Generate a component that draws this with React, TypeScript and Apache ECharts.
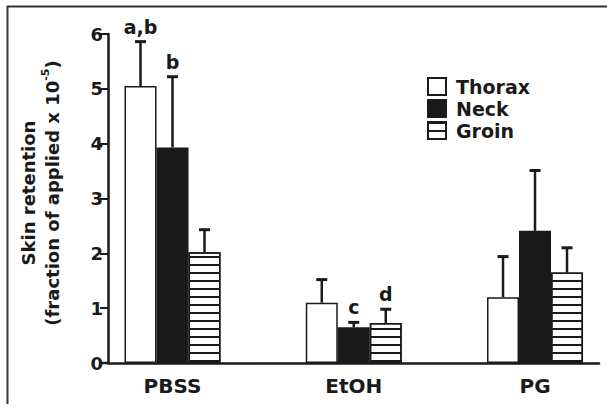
import React, { useEffect, useRef } from "react";
import * as echarts from "echarts";

const categories = ["PBSS", "EtOH", "PG"];
const seriesNames = ["Thorax", "Neck", "Groin"];
const thorax = [5.05, 1.1, 1.2];
const neck = [3.93, 0.65, 2.41];
const groin = [2.02, 0.73, 1.65];
const thoraxSD = [0.82, 0.43, 0.75];
const neckSD = [1.3, 0.1, 1.11];
const groinSD = [0.42, 0.26, 0.46];
const thoraxMarks = ["a,b", "", ""];
const neckMarks = ["b", "c", ""];
const groinMarks = ["", "d", ""];
const yMin = 0;
const yMax = 6;
const yInterval = 1;

const FONT = "DejaVu Sans";
const INK = "#1a1a1a";
const BAR_W = 32;
const GRID_LEFT = 108;
const GRID_BOTTOM = 44;
const H = 407;

export default function App() {
  const ref = useRef<HTMLDivElement>(null);
  useEffect(() => {
    if (!ref.current) return;
    const chart = echarts.init(ref.current, undefined, { renderer: "svg" });
    const values = [thorax, neck, groin];
    const sds = [thoraxSD, neckSD, groinSD];
    const marks = [thoraxMarks, neckMarks, groinMarks];
    const styles = [
      { color: "#ffffff", borderColor: INK, borderWidth: 1.5 },
      { color: INK, borderColor: INK, borderWidth: 1.5 },
      {
        color: "#ffffff",
        borderColor: INK,
        borderWidth: 1.5,
        decal: {
          symbol: "rect",
          symbolSize: 1,
          color: INK,
          dashArrayX: [1, 0],
          dashArrayY: [2, 6],
          rotation: 0,
        },
      },
    ];
    const barSeries = seriesNames.map((name, k) => ({
      name,
      type: "bar",
      barWidth: BAR_W,
      barGap: "0%",
      itemStyle: styles[k],
      data: categories.map((_, i) => [i, values[k][i]]),
    }));
    const errSeries = seriesNames.map((name, k) => ({
      name: name + " SD",
      type: "custom",
      encode: { x: 0, y: 2 },
      z: 5,
      data: categories.map((_, i) => [i, values[k][i], values[k][i] + sds[k][i]]),
      renderItem: (params: any, api: any) => {
        const x = api.value(0);
        const base = api.coord([x, api.value(1)]);
        const tp = api.coord([x, api.value(2)]);
        const cx = base[0] + (k - 1) * BAR_W;
        const children: any[] = [
          {
            type: "line",
            shape: { x1: cx, y1: base[1], x2: cx, y2: tp[1] },
            style: { stroke: INK, lineWidth: 2.5 },
          },
          {
            type: "line",
            shape: { x1: cx - 5.5, y1: tp[1] + 0.5, x2: cx + 5.5, y2: tp[1] + 0.5 },
            style: { stroke: INK, lineWidth: 3 },
          },
        ];
        const m = marks[k][params.dataIndex];
        if (m) {
          children.push({
            type: "text",
            x: cx,
            y: tp[1] - 5,
            style: {
              text: m,
              align: "center",
              verticalAlign: "bottom",
              fill: INK,
              font: `bold 19px "${FONT}"`,
            },
          });
        }
        return { type: "group", children };
      },
    }));

    chart.setOption({
      animation: false,
      backgroundColor: "#ffffff",
      textStyle: { fontFamily: FONT },
      grid: { left: GRID_LEFT, right: 8, top: 34, bottom: GRID_BOTTOM, containLabel: false },
      legend: {
        data: seriesNames,
        orient: "vertical",
        left: 427,
        top: 77,
        padding: 0,
        itemWidth: 18,
        itemHeight: 17,
        itemGap: 3,
        icon: "rect",
        textStyle: {
          fontFamily: FONT,
          fontSize: 19,
          fontWeight: "bold",
          color: INK,
          padding: [0, 0, 0, 5],
        },
      },
      xAxis: {
        type: "value",
        min: -0.356,
        max: 2.353,
        splitLine: { show: false },
        axisTick: { show: false },
        axisLine: { show: true, onZero: false, lineStyle: { color: INK, width: 2.5 } },
        axisLabel: {
          customValues: [0, 1, 2],
          formatter: (v: number) => categories[Math.round(v)] ?? "",
          fontFamily: FONT,
          fontSize: 20,
          fontWeight: "bold",
          color: INK,
          margin: 13,
        },
      },
      yAxis: {
        type: "value",
        min: yMin,
        max: yMax,
        interval: yInterval,
        splitLine: { show: false },
        axisLine: { show: true, onZero: false, lineStyle: { color: INK, width: 2.5 } },
        axisTick: { show: true, length: 8, lineStyle: { color: INK, width: 2 } },
        axisLabel: {
          fontFamily: FONT,
          fontSize: 18,
          fontWeight: "bold",
          color: INK,
          margin: 5,
        },
        name: "Skin retention\n(fraction of applied x 10{sup|-5})",
        nameLocation: "middle",
        nameRotate: 90,
        nameGap: 44,
        nameTextStyle: {
          fontFamily: FONT,
          fontSize: 18,
          fontWeight: "bold",
          color: INK,
          lineHeight: 24,
          padding: [0, 0, 0, 11],
          rich: {
            sup: {
              fontFamily: FONT,
              fontSize: 11,
              fontWeight: "bold",
              color: INK,
              verticalAlign: "top",
              lineHeight: 14,
            },
          },
        },
      },
      graphic: [
        {
          type: "line",
          shape: { x1: 7, y1: 6.5, x2: 607, y2: 6.5 },
          style: { stroke: "#333", lineWidth: 2 },
        },
        {
          type: "line",
          shape: { x1: 7.5, y1: 6, x2: 7.5, y2: 404 },
          style: { stroke: "#333", lineWidth: 2 },
        },
        {
          type: "line",
          shape: {
            x1: GRID_LEFT - 8,
            y1: H - GRID_BOTTOM,
            x2: GRID_LEFT,
            y2: H - GRID_BOTTOM,
          },
          style: { stroke: INK, lineWidth: 2.5 },
        },
      ],
      series: [...barSeries, ...errSeries],
    });
    return () => chart.dispose();
  }, []);
  return (
    <div
      ref={ref}
      style={{ position: "fixed", left: 0, top: 0, width: 607, height: H }}
    />
  );
}
